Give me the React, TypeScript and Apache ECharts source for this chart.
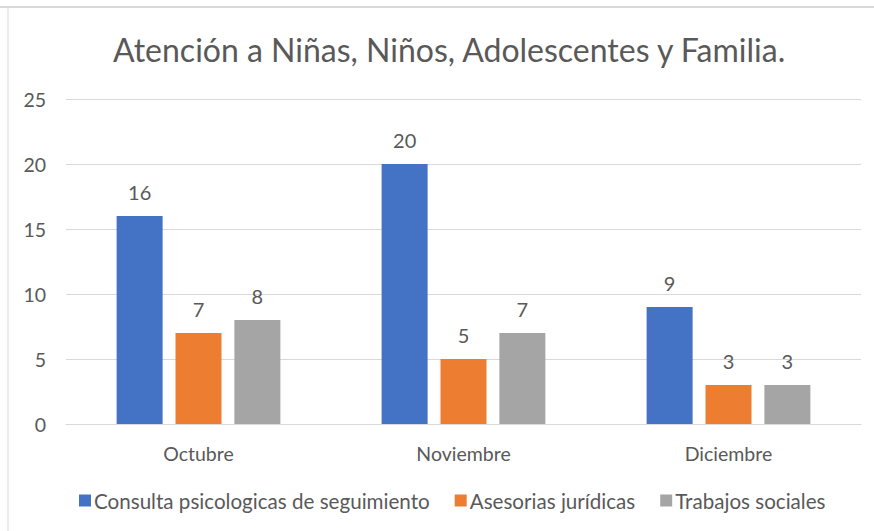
import React, { useEffect, useRef } from "react";
import * as echarts from "echarts";

const categories = ["Octubre", "Noviembre", "Diciembre"];
const seriesNames = [
  "Consulta psicologicas de seguimiento",
  "Asesorias jurídicas",
  "Trabajos sociales",
];
const consultaValues = [16, 20, 9];
const asesoriasValues = [7, 5, 3];
const trabajosValues = [8, 7, 3];
const colors = ["#4472C4", "#ED7D31", "#A5A5A5"];
const yTicks = { min: 0, max: 25, interval: 5 };

const FONT = "Lato, 'Open Sans', sans-serif";
const TEXT = "#595959";

export default function App() {
  const ref = useRef<HTMLDivElement>(null);
  useEffect(() => {
    if (!ref.current) return;
    const chart = echarts.init(ref.current, undefined, { renderer: "svg" });
    const values = [consultaValues, asesoriasValues, trabajosValues];
    chart.setOption({
      animation: false,
      backgroundColor: "#ffffff",
      title: {
        text: "Atención a Niñas, Niños, Adolescentes y Familia.",
        left: 108,
        top: 28,
        textStyle: { fontFamily: FONT, fontSize: 32, fontWeight: "normal", color: TEXT },
      },
      legend: {
        top: 485,
        left: 74,
        itemWidth: 12,
        itemHeight: 12,
        itemGap: 25,
        icon: "rect",
        textStyle: { fontFamily: FONT, fontSize: 20.6, color: TEXT, padding: [0, 0, 0, -2] },
        data: seriesNames,
      },
      graphic: [
        { type: "line", shape: { x1: 0, y1: 7, x2: 874, y2: 7 }, style: { stroke: "#D9D9D9", lineWidth: 2 } },
        { type: "line", shape: { x1: 8, y1: 7, x2: 8, y2: 531 }, style: { stroke: "#D9D9D9", lineWidth: 1 } },
      ],
      grid: { left: 66, right: 13, top: 99, bottom: 107, containLabel: false },
      xAxis: {
        type: "category",
        data: categories,
        axisLine: { lineStyle: { color: "#D9D9D9" } },
        axisTick: { show: false },
        axisLabel: { fontFamily: FONT, fontSize: 19.5, color: TEXT, margin: 19 },
      },
      yAxis: {
        type: "value",
        min: yTicks.min,
        max: yTicks.max,
        interval: yTicks.interval,
        axisLine: { show: false },
        axisTick: { show: false },
        splitLine: { lineStyle: { color: "#D9D9D9" } },
        axisLabel: { fontFamily: FONT, fontSize: 19.5, color: TEXT, margin: 20 },
      },
      series: seriesNames.map((name, i) => ({
        name,
        type: "bar",
        data: values[i],
        barWidth: 46,
        barGap: "28%",
        itemStyle: { color: colors[i] },
        label: {
          show: true,
          position: "top",
          distance: 14,
          fontFamily: FONT,
          fontSize: 20,
          color: TEXT,
        },
      })),
    });
    return () => chart.dispose();
  }, []);
  return (
    <div
      ref={ref}
      style={{ position: "fixed", left: 0, top: 0, width: 874, height: 531 }}
    />
  );
}
